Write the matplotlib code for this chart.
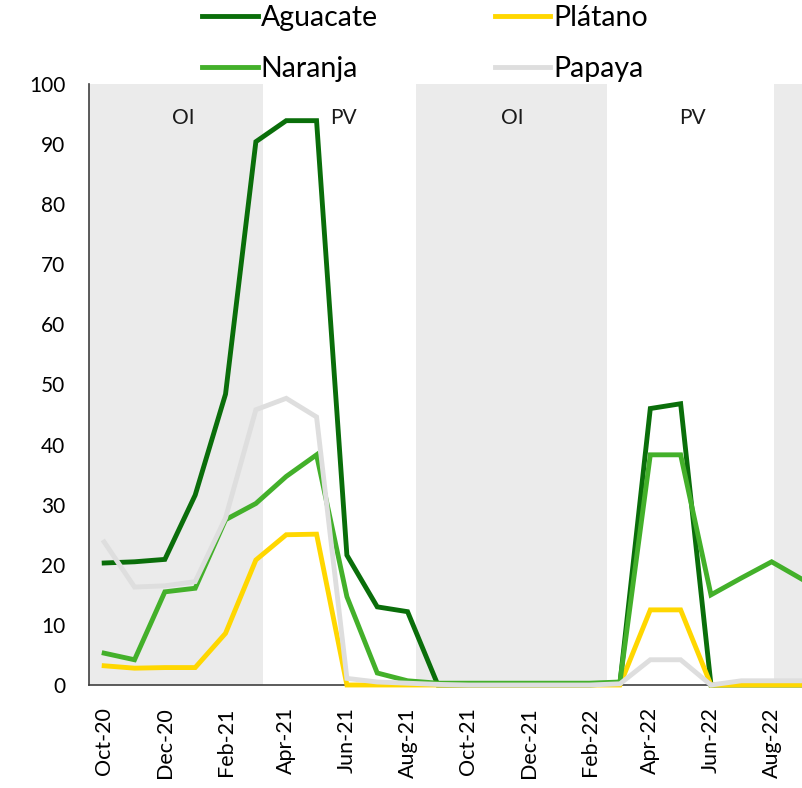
import matplotlib
matplotlib.use('Agg')
import matplotlib.pyplot as plt

plt.rcParams['font.family'] = ['Lato', 'DejaVu Sans']

# months Oct-20 .. Sep-22
months = ['Oct-20', 'Nov-20', 'Dec-20', 'Jan-21', 'Feb-21', 'Mar-21', 'Apr-21', 'May-21',
          'Jun-21', 'Jul-21', 'Aug-21', 'Sep-21', 'Oct-21', 'Nov-21', 'Dec-21', 'Jan-22',
          'Feb-22', 'Mar-22', 'Apr-22', 'May-22', 'Jun-22', 'Jul-22', 'Aug-22', 'Sep-22']

aguacate = [20.3, 20.5, 20.9, 31.6, 48.4, 90.4, 93.9, 93.9, 21.6, 13.0, 12.2, 0.0,
            0.0, 0.0, 0.0, 0.0, 0.0, 0.3, 46.0, 46.8, 0.0, 0.0, 0.0, 0.0]
naranja = [5.3, 4.2, 15.5, 16.1, 27.5, 30.2, 34.7, 38.3, 14.7, 2.0, 0.7, 0.3,
           0.3, 0.3, 0.3, 0.3, 0.3, 0.5, 38.3, 38.3, 15.0, 17.8, 20.5, 17.6]
platano = [3.2, 2.8, 2.9, 2.9, 8.6, 20.8, 25.0, 25.1, 0.0, 0.0, 0.0, 0.0,
           0.0, 0.0, 0.0, 0.0, 0.0, 0.0, 12.5, 12.5, 0.0, 0.0, 0.0, 0.0]
papaya = [23.8, 16.3, 16.5, 17.2, 27.8, 45.8, 47.7, 44.6, 1.1, 0.5, 0.3, 0.1,
          0.0, 0.0, 0.0, 0.0, 0.0, 0.2, 4.2, 4.2, 0.0, 0.7, 0.7, 0.7]

# shaded seasons (month index units) and their labels
bands = [(-0.5, 5.25), (10.29, 16.56), (22.09, 23.5)]
season_labels = ['OI', 'PV', 'OI', 'PV']
season_x = [2.6, 7.9, 13.45, 19.4]

fig = plt.figure(figsize=(8.02, 7.88), dpi=100)
ax = fig.add_axes([89 / 802, 1 - 685 / 788, (802 - 89) / 802, (685 - 84) / 788])

for a, b in bands:
    ax.axvspan(a, b, color='#ebebeb', lw=0, zorder=0)

x = list(range(len(months)))
series = [('Aguacate', aguacate, '#0a6e0a'),
          ('Plátano', platano, '#ffd700'),
          ('Naranja', naranja, '#43b02a'),
          ('Papaya', papaya, '#dedede')]
lines = {}
for name, vals, col in series:
    ln, = ax.plot(x, vals, color=col, lw=3.5, zorder=3, clip_on=False,
                  solid_joinstyle='miter')
    lines[name] = ln

for lab, xx in zip(season_labels, season_x):
    ax.text(xx, 94.3, lab, ha='center', va='center', fontsize=15, color='#1a1a1a')

ax.set_xlim(-0.5, 23.0)
ax.set_ylim(0, 100)
ax.set_yticks(range(0, 101, 10))
ax.set_xticks(x[::2])
ax.set_xticklabels(months[::2], rotation=90)
ax.tick_params(axis='y', length=0, pad=17, labelsize=15)
ax.tick_params(axis='x', length=0, pad=16, labelsize=15.5)
for s in ['top', 'right']:
    ax.spines[s].set_visible(False)
for s in ['left', 'bottom']:
    ax.spines[s].set_color('#404040')
    ax.spines[s].set_linewidth(1.2)

order = ['Aguacate', 'Naranja', 'Plátano', 'Papaya']
fig.legend([lines[n] for n in order], order, ncol=2, loc='upper center',
           bbox_to_anchor=(0.53, 0.994), frameon=False, fontsize=20.5,
           handlelength=1.95, handletextpad=0.1, columnspacing=4.1,
           labelspacing=0.88, borderpad=0, borderaxespad=0)

fig.savefig('out.png', dpi=100)
